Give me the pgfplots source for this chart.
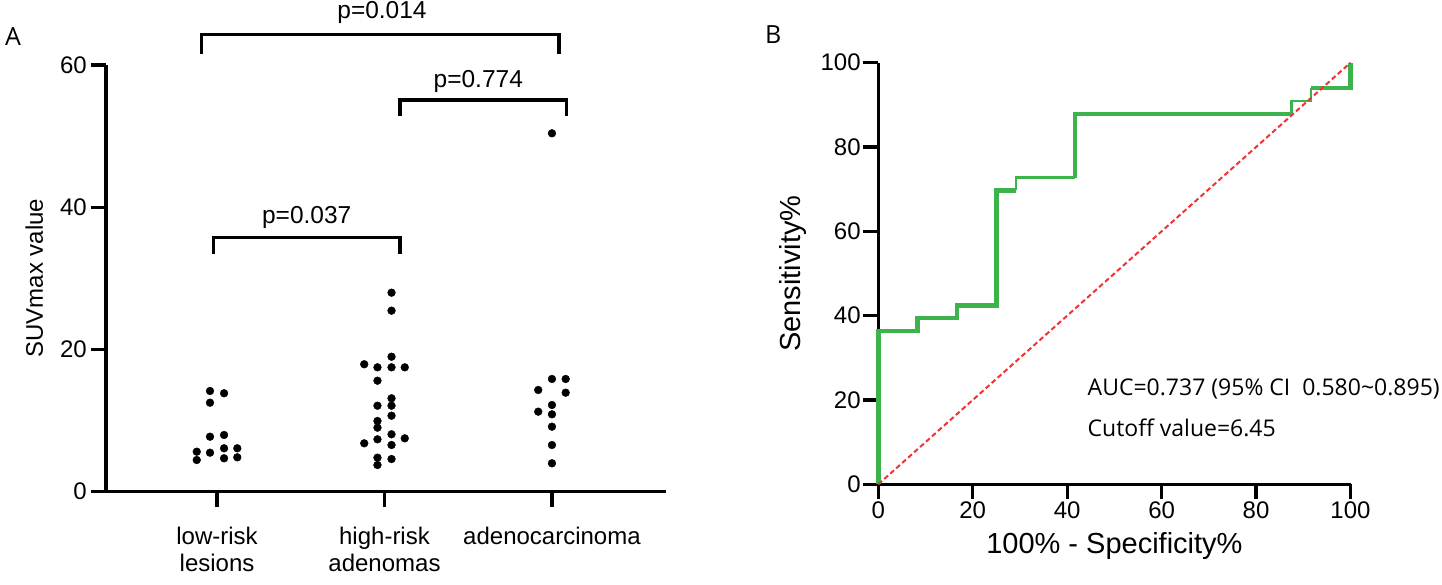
\documentclass[border=0pt]{standalone}
\usepackage{fontspec}
\setmainfont{Liberation Sans}
\newfontfamily\osans{Open Sans}
\usepackage{pgfplots}
\pgfplotsset{compat=1.18}
\definecolor{rocgreen}{RGB}{60,180,75}
\definecolor{diagred}{RGB}{240,50,50}

\begin{document}
\begin{tikzpicture}[x=1pt,y=1pt]
\useasboundingbox (0,0) rectangle (1442,584);

% ---------------- Panel A ----------------
\begin{axis}[
  at={(106pt,92.5pt)}, anchor=south west,
  scale only axis, width=560pt, height=426.5pt,
  xmin=0.337, xmax=3.681, ymin=0, ymax=60,
  axis x line*=bottom, axis y line*=left,
  axis line style={line width=3.3pt, -},
  tick align=outside, major tick length=15pt,
  major tick style={line width=3.3pt, black},
  /pgf/number format/assume math mode=true,
  xtick={1,2,3},
  xticklabels={{low-risk\\lesions},{high-risk\\adenomas},{adenocarcinoma}},
  xticklabel style={align=center, font=\fontsize{24}{27}\selectfont, inner sep=3pt, yshift=-17pt},
  ytick={0,20,40,60},
  yticklabel style={font=\fontsize{24}{26.5}\selectfont, inner sep=4pt},
  ylabel={SUVmax value},
  ylabel style={font=\fontsize{24}{26.5}\selectfont, at={(axis description cs:-0.1125,0.5)}, anchor=base},
  clip=false,
]
% low-risk lesions
\addplot[only marks, mark=*, mark size=3.9pt, black] coordinates {
 (0.879,5.60) (0.879,4.43)
 (0.958,14.14) (0.958,12.49) (0.958,7.71) (0.958,5.46)
 (1.042,13.82) (1.042,7.95) (1.042,6.08) (1.042,4.67)
 (1.121,6.08) (1.121,4.81)
};
% high-risk adenomas
\addplot[only marks, mark=*, mark size=3.9pt, black] coordinates {
 (1.879,17.90) (1.879,6.78)
 (1.958,17.47) (1.958,15.59) (1.958,12.07) (1.958,9.92) (1.958,8.98) (1.958,7.34) (1.958,4.76) (1.958,3.73)
 (2.042,27.97) (2.042,25.44) (2.042,18.96) (2.042,17.47) (2.042,13.11) (2.042,12.07) (2.042,10.66) (2.042,8.05) (2.042,6.54) (2.042,4.57)
 (2.121,17.47) (2.121,7.48)
};
% adenocarcinoma
\addplot[only marks, mark=*, mark size=3.9pt, black] coordinates {
 (2.918,14.28) (2.918,11.23)
 (3.0,50.39) (3.0,15.83) (3.0,12.17) (3.0,10.86) (3.0,9.12) (3.0,6.54) (3.0,3.97)
 (3.082,15.83) (3.082,13.90)
};
\end{axis}

% brackets and p-values (panel A)
\begin{scope}[line width=3.3pt, line join=miter]
\draw (201.7,529.7) -- (201.7,549.7) -- (559,549.7) -- (559,529.7);
\draw (400,468) -- (400,484) -- (566.7,484) -- (566.7,468);
\draw (213.3,330) -- (213.3,346.7) -- (400,346.7) -- (400,330);
\end{scope}
\node[anchor=base, font=\fontsize{24.5}{26.5}\selectfont, inner sep=0pt] at (382,565) {p=0.014};
\node[anchor=base, font=\fontsize{24.5}{26.5}\selectfont, inner sep=0pt] at (478.3,496.7) {p=0.774};
\node[anchor=base, font=\fontsize{24.5}{26.5}\selectfont, inner sep=0pt] at (306.7,360) {p=0.037};

\node[anchor=base west, font=\osans\fontsize{25}{27}\selectfont, inner sep=0pt] at (5,538) {A};
\node[anchor=base west, font=\osans\fontsize{25}{27}\selectfont, inner sep=0pt] at (765,540) {B};

% ---------------- Panel B ----------------
\begin{axis}[
  at={(878.3pt,99.7pt)}, anchor=south west,
  scale only axis, width=472.2pt, height=421.6pt,
  xmin=0, xmax=100, ymin=0, ymax=100,
  axis x line*=bottom, axis y line*=left,
  axis line style={line width=3.3pt, -},
  tick align=outside, major tick length=15pt,
  major tick style={line width=3.3pt, black},
  /pgf/number format/assume math mode=true,
  xtick={0,20,40,60,80,100},
  ytick={0,20,40,60,80,100},
  xticklabel style={font=\fontsize{24}{26.5}\selectfont, inner sep=2pt},
  yticklabel style={font=\fontsize{24}{26.5}\selectfont, inner sep=2.5pt},
  xlabel={100\% - Specificity\%},
  xlabel style={font=\fontsize{29}{32}\selectfont, at={(axis description cs:0.5,-0.1653)}, anchor=base},
  ylabel={Sensitivity\%},
  ylabel style={font=\fontsize{29}{32}\selectfont, at={(axis description cs:-0.1658,0.5)}, anchor=base},
  clip=false,
]
\addplot[rocgreen, line width=4.5pt, line join=miter] coordinates {
 (0,0) (0,36.36) (8.33,36.36) (8.33,39.39) (16.67,39.39) (16.67,42.42)
 (25,42.42) (25,69.70) (29.17,69.70)
};
\addplot[rocgreen, line width=2.5pt, line join=miter] coordinates {
 (29.17,69.70) (29.17,72.73) (41.67,72.73)
};
\addplot[rocgreen, line width=4.5pt, line join=miter] coordinates {
 (41.67,72.73) (41.67,87.88) (87.5,87.88)
};
\addplot[rocgreen, line width=2.5pt, line join=miter] coordinates {
 (87.5,87.88) (87.5,90.91) (91.67,90.91) (91.67,93.94)
};
\addplot[rocgreen, line width=4.5pt, line join=miter] coordinates {
 (91.67,93.94) (100,93.94) (100,100)
};
\addplot[diagred, line width=2pt, dash pattern=on 5pt off 3pt] coordinates {(0,0) (100,100)};
\end{axis}

\node[anchor=base west, font=\osans\fontsize{23}{27}\selectfont, inner sep=0pt] at (1087.5,189) {AUC=0.737 (95\% CI\ \ 0.580\textasciitilde0.895)};
\node[anchor=base west, font=\osans\fontsize{23}{27}\selectfont, inner sep=0pt] at (1087.5,148) {Cutoff value=6.45};
\end{tikzpicture}
\end{document}
